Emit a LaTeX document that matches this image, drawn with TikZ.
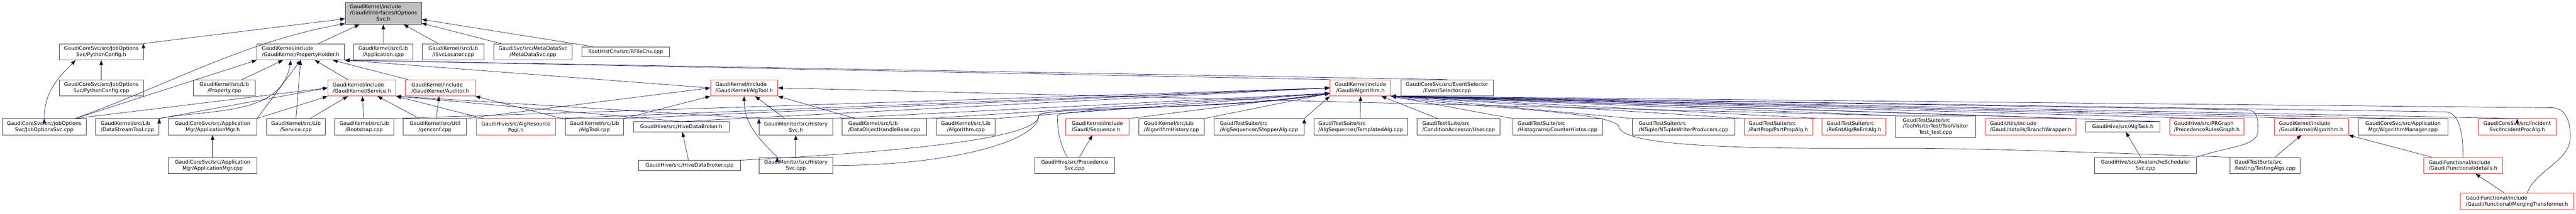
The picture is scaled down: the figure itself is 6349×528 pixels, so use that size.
\documentclass[tikz,border=0pt]{standalone}
\usepackage{fontspec}
\setmainfont{DejaVu Sans}
\usepackage{tikz}
\usetikzlibrary{arrows.meta}
\definecolor{linkblue}{HTML}{191970}
\definecolor{boxgray}{HTML}{404040}
\definecolor{truncred}{HTML}{FF3030}
\definecolor{mainfill}{HTML}{BFBFBF}
\tikzset{
  file/.style={draw=boxgray, line width=1pt, inner sep=0pt, minimum height=40pt,
    font=\fontsize{12.6}{15}\selectfont, align=center},
  lfile/.style={file, align=left},
  trunc/.style={draw=truncred},
  inc/.style={draw=linkblue, line width=0.9pt, -{Triangle[length=12pt,width=9pt]}}
}

\begin{document}
\begin{tikzpicture}[x=1pt,y=1pt]
\useasboundingbox (0,0) rectangle (6349,528);

\node (iop) [file, fill=mainfill, minimum width=188pt, minimum height=54pt] at (945,495)
  {\begin{tabular}{@{}l@{}}GaudiKernel/include\\/Gaudi/Interfaces/IOptions\\\multicolumn{1}{@{}c@{}}{Svc.h}\end{tabular}};

% level 1
\node (pyh) [file, minimum width=207pt] at (249.5,400) {GaudiCoreSvc/src/JobOptions\\Svc/PythonConfig.h};
\node (ph) [lfile, minimum width=216pt] at (741,400) {GaudiKernel/include\\/GaudiKernel/PropertyHolder.h};
\node (appcpp) [file, minimum width=145pt] at (944.5,400) {GaudiKernel/src/Lib\\/Application.cpp};
\node (isvc) [file, minimum width=152pt] at (1117,400) {GaudiKernel/src/Lib\\/ISvcLocator.cpp};
\node (meta) [file, minimum width=193pt] at (1313.5,400) {GaudiSvc/src/MetaDataSvc\\/MetaDataSvc.cpp};
\node (rfile) [file, minimum width=216pt, minimum height=25pt] at (1542,400) {RootHistCnv/src/RFileCnv.cpp};

% level 2
\node (pycpp) [file, minimum width=207pt] at (249.5,311) {GaudiCoreSvc/src/JobOptions\\Svc/PythonConfig.cpp};
\node (prop) [file, minimum width=152pt] at (553,311) {GaudiKernel/src/Lib\\/Property.cpp};
\node (svch) [lfile, trunc, minimum width=168pt] at (892,311) {GaudiKernel/include\\/GaudiKernel/Service.h};
\node (audh) [lfile, trunc, minimum width=172pt] at (1085,311) {GaudiKernel/include\\/GaudiKernel/Auditor.h};
\node (atoolh) [lfile, trunc, minimum width=166pt] at (1834,311) {GaudiKernel/include\\/GaudiKernel/AlgTool.h};
\node (galgh) [file, trunc, minimum width=150pt] at (3353,311) {GaudiKernel/include\\/Gaudi/Algorithm.h};
\node (evsel) [file, minimum width=227pt] at (3566.5,311) {GaudiCoreSvc/src/EventSelector\\/EventSelector.cpp};

% level 3
\node (jos) [file, minimum width=208pt] at (109,215) {GaudiCoreSvc/src/JobOptions\\Svc/JobOptionsSvc.cpp};
\node (dst) [lfile, minimum width=156pt] at (314,215) {GaudiKernel/src/Lib\\/DataStreamTool.cpp};
\node (amh) [file, minimum width=218pt] at (524,215) {GaudiCoreSvc/src/Application\\Mgr/ApplicationMgr.h};
\node (svccpp) [file, minimum width=145pt] at (729.5,215) {GaudiKernel/src/Lib\\/Service.cpp};
\node (boot) [file, minimum width=145pt] at (897.5,215) {GaudiKernel/src/Lib\\/Bootstrap.cpp};
\node (genconf) [file, minimum width=156pt] at (1072,215) {GaudiKernel/src/Util\\/genconf.cpp};
\node (arp) [file, trunc, minimum width=195pt] at (1271.5,215) {GaudiHive/src/AlgResource\\Pool.h};
\node (atoolcpp) [file, minimum width=144pt] at (1465,215) {GaudiKernel/src/Lib\\/AlgTool.cpp};
\node (hdbh) [file, minimum width=236pt, minimum height=25pt] at (1679,215) {GaudiHive/src/HiveDataBroker.h};
\node (hsvh) [file, minimum width=181pt] at (1961.5,215) {GaudiMonitor/src/History\\Svc.h};
\node (dohb) [lfile, minimum width=209pt] at (2179.5,215) {GaudiKernel/src/Lib\\/DataObjectHandleBase.cpp};
\node (algcpp) [file, minimum width=145pt] at (2380.5,215) {GaudiKernel/src/Lib\\/Algorithm.cpp};
\node (seq) [lfile, trunc, minimum width=157pt] at (2704.5,215) {GaudiKernel/include\\/Gaudi/Sequence.h};
\node (algh) [lfile, minimum width=161pt] at (2887.5,215) {GaudiKernel/src/Lib\\/AlgorithmHistory.cpp};
\node (stop) [lfile, minimum width=222pt] at (3103,215) {GaudiTestSuite/src\\/AlgSequencer/StopperAlg.cpp};
\node (templ) [lfile, minimum width=231pt] at (3353.5,215) {GaudiTestSuite/src\\/AlgSequencer/TemplatedAlg.cpp};
\node (user) [lfile, minimum width=204pt] at (3595,215) {GaudiTestSuite/src\\/ConditionAccessor/User.cpp};
\node (cnt) [lfile, minimum width=222pt] at (3839,215) {GaudiTestSuite/src\\/Histograms/CounterHistos.cpp};
\node (ntw) [lfile, minimum width=253pt] at (4149.5,215) {GaudiTestSuite/src\\/NTuple/NTupleWriterProducers.cpp};
\node (ppa) [lfile, trunc, minimum width=168pt] at (4383,215) {GaudiTestSuite/src\\/PartProp/PartPropAlg.h};
\node (rea) [lfile, trunc, minimum width=157pt] at (4569.5,215) {GaudiTestSuite/src\\/ReEntAlg/ReEntAlg.h};
\node (tvt) [file, minimum width=197pt, minimum height=54pt] at (4770.5,215)
  {\begin{tabular}{@{}l@{}}GaudiTestSuite/src\\/ToolVisitorTest/ToolVisitor\\\multicolumn{1}{@{}c@{}}{Test\_test.cpp}\end{tabular}};
\node (bw) [lfile, trunc, minimum width=224pt] at (5005,215) {GaudiUtils/include\\/Gaudi/details/BranchWrapper.h};
\node (task) [file, minimum width=184pt, minimum height=25pt] at (5232,215) {GaudiHive/src/AlgTask.h};
\node (prg) [lfile, trunc, minimum width=184pt] at (5439,215) {GaudiHive/src/PRGraph\\/PrecedenceRulesGraph.h};
\node (gkalg) [lfile, trunc, minimum width=183pt] at (5696.5,215) {GaudiKernel/include\\/GaudiKernel/Algorithm.h};
\node (algmgr) [file, minimum width=221pt] at (5922.5,215) {GaudiCoreSvc/src/Application\\Mgr/AlgorithmManager.cpp};
\node (ipa) [file, trunc, minimum width=192pt] at (6204,215) {GaudiCoreSvc/src/Incident\\Svc/IncidentProcAlg.h};

% level 4 and 5
\node (amcpp) [file, minimum width=218pt] at (524,119.5) {GaudiCoreSvc/src/Application\\Mgr/ApplicationMgr.cpp};
\node (hdbcpp) [file, minimum width=251pt, minimum height=25pt] at (1699.5,119.5) {GaudiHive/src/HiveDataBroker.cpp};
\node (hsvcpp) [file, minimum width=181pt] at (1961.5,119.5) {GaudiMonitor/src/History\\Svc.cpp};
\node (prec) [file, minimum width=197pt] at (2648.5,119.5) {GaudiHive/src/Precedence\\Svc.cpp};
\node (aval) [file, minimum width=252pt] at (5288,119.5) {GaudiHive/src/AvalancheScheduler\\Svc.cpp};
\node (test) [lfile, minimum width=173pt] at (5582.5,119.5) {GaudiTestSuite/src\\/testing/TestingAlgs.cpp};
\node (det) [lfile, trunc, minimum width=195pt] at (6070.5,119.5) {GaudiFunctional/include\\/Gaudi/Functional/details.h};
\node (merge) [lfile, trunc, minimum width=279pt] at (6203.5,31) {GaudiFunctional/include\\/Gaudi/Functional/MergingTransformer.h};

\coordinate (hivegap) at (2560,242);
\coordinate (precgap) at (2606,242);
\coordinate (testmid) at (4700,162);
\coordinate (cntgap) at (3990,215);
\coordinate (avalside) at (5565,205);
\coordinate (avaltop) at (5535,257);
\coordinate (detup) at (6025,252);
\coordinate (mergeside) at (6335,190);
\coordinate (mergetop) at (6290,262);

% IOptionsSvc.h
\draw [inc] (ph) edge (iop) (appcpp) edge (iop) (isvc) edge (iop)
  (meta) edge (iop) (rfile) edge (iop) (pyh.north east) edge (iop.188);
\draw [inc] (jos.15) to[out=20,in=190,out distance=250pt,in distance=250pt] (iop.195);

% PythonConfig.h
\draw [inc] (pycpp) edge (pyh) (jos.north) edge[out=90,in=-135] (pyh.198);

% PropertyHolder.h
\draw [inc] (prop) edge (ph) (svch) edge (ph) (audh) edge (ph)
  (svccpp.north) edge (ph.south) (amh.north east) edge (ph.south)
  (atoolh.west) edge (ph.south east) (galgh.north west) edge (ph.south east)
  (evsel.north) edge (ph.south east) (jos.15) edge (ph.south west)
  (dst.north east) edge[out=10,in=-100] ([xshift=-24pt]ph.south);

% Service.h
\draw [inc] (jos.15) edge (svch.west) (dst.north east) edge (svch.west)
  (amh.north east) edge (svch.south west) (svccpp) edge (svch)
  (boot) edge (svch) (genconf) edge (svch) (arp) edge (svch.south east)
  (hdbh.north) edge (svch.south east) (hsvh.north west) edge (svch.south east);

% Auditor.h and AlgTool.h
\draw [inc] (genconf) edge (audh) (atoolcpp) edge (audh.south east);
\draw [inc] (genconf.north east) edge (atoolh.west)
  (atoolcpp.north east) edge (atoolh.south west)
  (hsvh) edge (atoolh) (dohb) edge (atoolh.south east)
  (tvt.north west) edge (atoolh.east)
  ([xshift=-46pt]hsvcpp.north) edge[out=135,in=-90] (atoolh.south);

% Gaudi/Algorithm.h
\draw [inc] (boot.north east) edge (galgh.west) (arp.north east) edge (galgh.west)
  (atoolcpp.north east) edge (galgh.west) (hdbh.north) edge (galgh.west)
  (hsvh.north east) edge (galgh.190) (dohb.north east) edge (galgh.190)
  (algcpp.north east) edge (galgh.190) (seq.north east) edge (galgh.190)
  (algh.north east) edge (galgh.190) (stop.north east) edge (galgh.south west)
  (templ) edge (galgh) (user) edge (galgh);
\draw [inc] (cnt.north west) edge (galgh.south east) (ntw.north west) edge (galgh.south east)
  (ppa.north west) edge (galgh.south east) (rea.north west) edge (galgh.south east)
  (tvt.north west) edge (galgh.south east) (bw.north east) edge (galgh.south east)
  (task.north east) edge (galgh.south east) (prg.north) edge (galgh.south east)
  (gkalg.north) edge (galgh.south east) (algmgr.north) edge (galgh.south east)
  (ipa.north) edge (galgh.south east);
\draw [inc] (hdbcpp.north east) to[out=3,in=-90,out distance=350pt,in distance=60pt] (hivegap)
  to[out=90,in=190,out distance=25pt,in distance=250pt] (galgh.190);
\draw [inc] (hsvcpp.east) to[out=0,in=-90,out distance=300pt,in distance=60pt] (hivegap)
  to[out=90,in=190,out distance=25pt,in distance=250pt] (galgh.190);
\draw [inc] ([xshift=-18pt]prec.north) to[out=120,in=-90,out distance=40pt,in distance=30pt] (precgap)
  to[out=90,in=190,out distance=20pt,in distance=200pt] (galgh.190);
\draw [inc] (test.north west) to[out=178,in=0,out distance=200pt,in distance=200pt] (testmid)
  to[out=180,in=-80,out distance=250pt,in distance=60pt] (cntgap)
  to[out=100,in=-10,out distance=40pt,in distance=150pt] (galgh.south east);
\draw [inc] (aval.north east) to[out=20,in=-90,out distance=80pt,in distance=40pt] (avalside)
  to[out=90,in=0,out distance=30pt,in distance=30pt] (avaltop) -- (galgh.south east);
\draw [inc] (det.north) to[out=90,in=0,out distance=50pt,in distance=40pt] (detup) -- (galgh.south east);
\draw [inc] ([xshift=25pt]merge.north) to[out=70,in=-90,out distance=60pt,in distance=60pt] (mergeside)
  to[out=90,in=0,out distance=35pt,in distance=35pt] (mergetop) -- (galgh.south east);

% lower levels
\draw [inc] (amcpp) edge (amh) (hdbcpp) edge (hdbh) (hsvcpp) edge (hsvh) (prec) edge (seq)
  (aval) edge (task) (test) edge (gkalg) (det) edge (gkalg.south east) (merge) edge (det);
\end{tikzpicture}
\end{document}
